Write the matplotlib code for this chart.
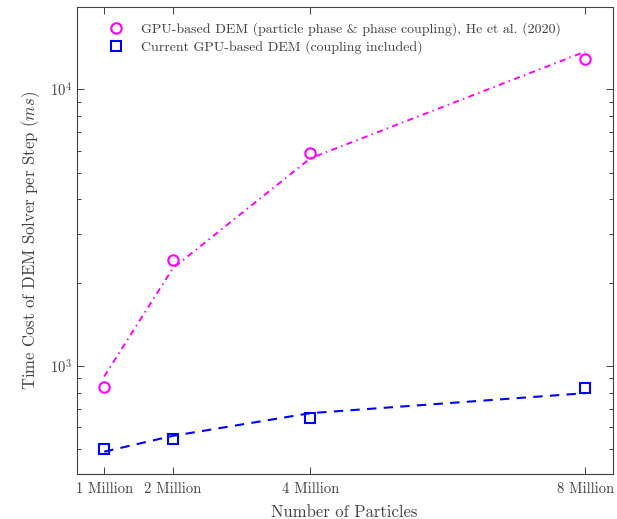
import matplotlib
matplotlib.use('Agg')
import matplotlib.pyplot as plt
from matplotlib.ticker import LogLocator, NullFormatter

plt.rcParams['font.family'] = 'cmr10'
plt.rcParams['mathtext.fontset'] = 'cm'
plt.rcParams['axes.formatter.use_mathtext'] = True

particles = [1, 2, 4, 8]
tick_labels = ['1 Million', '2 Million', '4 Million', '8 Million']

# measured time per step (ms)
he2020 = [838, 2416, 5875, 12900]
current = [501, 545, 645, 833]
# fitted trends
he2020_fit = [915, 2254, 5630, 13690]
current_fit = [489, 558, 674, 796]

grey = '0.25'

fig = plt.figure(figsize=(6.17, 5.19), dpi=100)
ax = fig.add_axes([0.1243, 0.0861, 0.8688, 0.901])

ax.plot(particles, he2020_fit, color='magenta', ls=(0, (3.2, 2.2, 0.8, 2.2)), lw=1.4)
ax.plot(particles, current_fit, color='blue', ls=(0, (4.5, 3.5)), lw=1.5)
h1, = ax.plot(particles, he2020, 'o', mfc='none', mec='magenta', ms=7.5, mew=1.5,
              label='GPU-based DEM (particle phase & phase coupling), He et al. (2020)')
h2, = ax.plot(particles, current, 's', mfc='none', mec='blue', ms=6.5, mew=1.5,
              label='Current GPU-based DEM (coupling included)')

ax.set_yscale('log')
ax.set_xlim(0.6, 8.4)
ax.set_ylim(405, 19900)
ax.set_xticks(particles)
ax.set_xticklabels(tick_labels)
ax.yaxis.set_major_locator(LogLocator(base=10))
ax.yaxis.set_minor_locator(LogLocator(base=10, subs=range(2, 10)))
ax.yaxis.set_minor_formatter(NullFormatter())

ax.tick_params(which='both', direction='in', top=True, right=True, colors=grey,
               labelsize=10.5, width=0.7)
ax.tick_params(which='major', length=5)
ax.tick_params(which='minor', length=3)
ax.tick_params(axis='x', pad=6)
for s in ax.spines.values():
    s.set_color(grey)
    s.set_linewidth(0.8)

ax.set_xlabel('Number of Particles', fontsize=12, color=grey, labelpad=6)
ax.set_ylabel('Time Cost of DEM Solver per Step ($ms$)', fontsize=12, color=grey)
ax.yaxis.set_label_coords(-0.064, 0.5)

leg = ax.legend(handles=[h1, h2], loc='upper left', frameon=False, fontsize=10,
                bbox_to_anchor=(0.032, 0.985), handletextpad=0.8, labelspacing=0.3,
                borderaxespad=0.2)
for t in leg.get_texts():
    t.set_color(grey)

fig.savefig('out.png', dpi=100)
